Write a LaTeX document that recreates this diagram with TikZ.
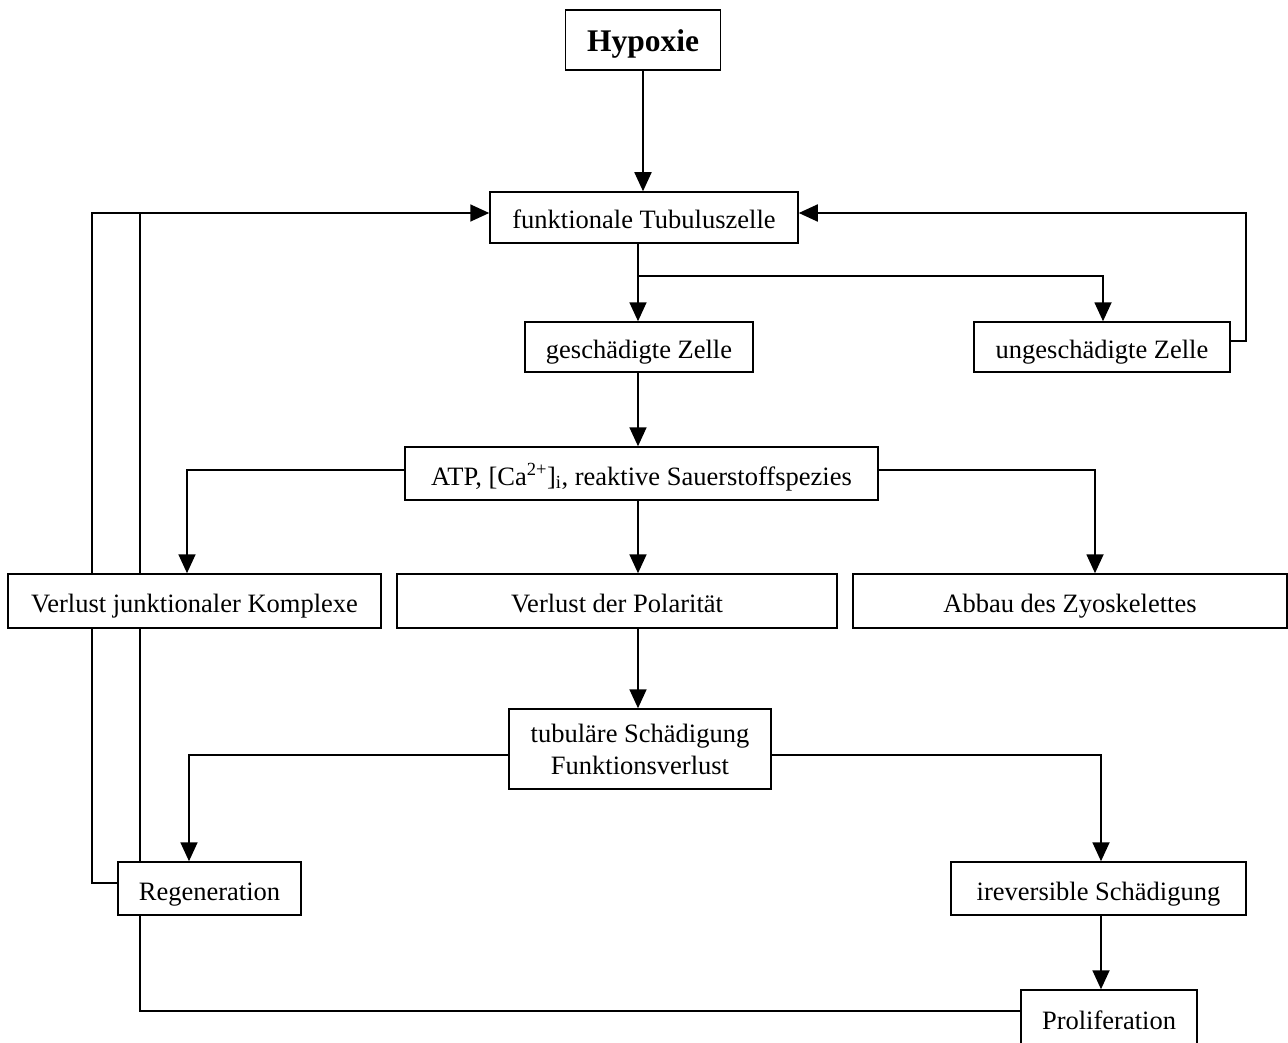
\documentclass[tikz,border=0pt]{standalone}
\usepackage{fontspec}
\usepackage{graphicx}
\setmainfont{Liberation Serif}
\usetikzlibrary{arrows.meta,backgrounds}
\begin{document}
\begin{tikzpicture}[x=1pt,y=-1pt,
  box/.style={draw,line width=1.5pt,fill=white,inner sep=0pt,
    font=\fontsize{26.5}{32}\selectfont,align=center},
  one/.style={box,text height=26pt,text depth=3pt},
  conn/.style={line width=1.8pt},
  arr/.style={conn,-{Triangle[length=19pt,width=17pt]}}]
\useasboundingbox (0,0) rectangle (1288,1043);

\node[one,minimum width=155pt,minimum height=60pt,font=\fontsize{31.5}{36}\selectfont\bfseries] (hyp) at (643,40) {Hypoxie};
\node[one,minimum width=308pt,minimum height=51pt] (func) at (644,217.5) {funktionale Tubuluszelle};
\node[one,minimum width=228pt,minimum height=50pt] (gesch) at (639,347) {geschädigte Zelle};
\node[one,minimum width=256pt,minimum height=50pt] (unge) at (1102,347) {ungeschädigte Zelle};
\node[one,minimum width=473pt,minimum height=53pt] (atp) at (641.5,473.5) {ATP, [Ca\textsuperscript{2+}]\textsubscript{i}, reaktive Sauerstoffspezies};
\node[one,minimum width=373pt,minimum height=54pt] (vjk) at (194.5,601) {Verlust junktionaler Komplexe};
\node[one,minimum width=440pt,minimum height=54pt] (vpol) at (617,601) {Verlust der Polarität};
\node[one,minimum width=434pt,minimum height=54pt] (abbau) at (1070,601) {Abbau des Zyoskelettes};
\node[box,minimum width=262pt,minimum height=80pt] (tub) at (640,749) {tubuläre Schädigung\\Funktionsverlust};
\node[one,minimum width=183pt,minimum height=53pt] (regen) at (209.5,888.5) {Regeneration};
\node[one,minimum width=295pt,minimum height=53pt] (irr) at (1098.5,888.5) {ireversible Schädigung};
\node[one,minimum width=176pt,minimum height=56pt] (prolif) at (1109,1018) {Proliferation};

\coordinate (split) at (638,276);
\coordinate (jn) at (140,213);

\begin{scope}[on background layer]
\draw[arr] (hyp.south) -- (hyp.south |- func.north);
\draw[conn] (func.south -| split) -- (split);
\draw[arr] (split) -- (split |- gesch.north);
\draw[arr] (split) -| ([xshift=1pt]unge.north);
\draw[arr] ([yshift=6pt]unge.east) -- ++(15,0) |- ([yshift=4.5pt]func.east);
\draw[arr] (gesch.south -| split) -- (atp.north -| split);
\draw[arr] ([yshift=3.5pt]atp.west) -| ([xshift=-7.5pt]vjk.north);
\draw[arr] ([yshift=3.5pt]atp.east) -| ([xshift=25pt]abbau.north);
\draw[arr] (atp.south -| split) -- (vpol.north -| split);
\draw[arr] (vpol.south -| split) -- (tub.north -| split);
\draw[arr] ([yshift=-6pt]tub.west) -| ([xshift=-20.5pt]regen.north);
\draw[arr] ([yshift=-6pt]tub.east) -| ([xshift=2.5pt]irr.north);
\draw[arr] ([xshift=2.5pt]irr.south) -- ([xshift=2.5pt]irr.south |- prolif.north);
\draw[arr] ([yshift=5.5pt]regen.west) -- ++(-25,0) |- ([yshift=4.5pt]func.west);
\draw[conn] ([yshift=7pt]prolif.west) -| (jn);
\end{scope}
\end{tikzpicture}
\end{document}
